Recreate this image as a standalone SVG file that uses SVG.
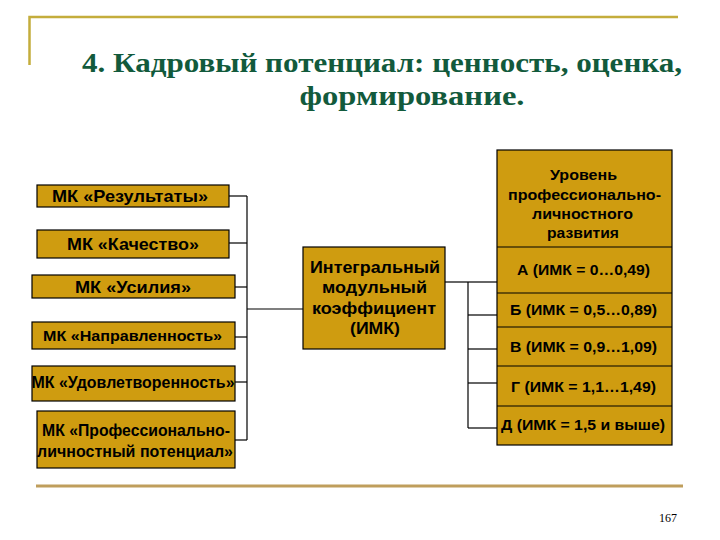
<svg xmlns="http://www.w3.org/2000/svg" width="720" height="540" viewBox="0 0 720 540">
<style>
.box{fill:#cf9c10;stroke:#000;stroke-width:1.2}
.t{font-family:"Liberation Sans",Arial,sans-serif;font-weight:bold;fill:#000;text-anchor:middle}
.l16{font-size:16.5px}
.l14{font-size:15px}
.title{font-family:"Liberation Serif","Times New Roman",serif;font-size:28px;font-weight:bold;fill:#125a3c;text-anchor:middle}
.conn{stroke:#000;stroke-width:1.2;fill:none}
</style>
<rect width="720" height="540" fill="#fff"/>
<g id="frame">
<polyline points="29.5,65 29.5,17 678,17" fill="none" stroke="#c4ad3c" stroke-width="2.5"/>
<line x1="36" y1="486" x2="683" y2="486" stroke="#bf9e5c" stroke-width="3"/>
</g>
<g id="title">
<text class="title" x="382" y="72" textLength="600" lengthAdjust="spacingAndGlyphs">4. Кадровый потенциал: ценность, оценка,</text>
<text class="title" x="412" y="105" textLength="225" lengthAdjust="spacingAndGlyphs">формирование.</text>
</g>
<g id="connectors">
<line class="conn" x1="229" y1="196" x2="247" y2="196"/>
<line class="conn" x1="229" y1="243" x2="247" y2="243"/>
<line class="conn" x1="235" y1="287" x2="247" y2="287"/>
<line class="conn" x1="235" y1="337" x2="247" y2="337"/>
<line class="conn" x1="235" y1="382" x2="247" y2="382"/>
<line class="conn" x1="235" y1="440" x2="247" y2="440"/>
<line class="conn" x1="247" y1="196" x2="247" y2="440"/>
<line class="conn" x1="247" y1="309" x2="303" y2="309"/>
<line class="conn" x1="445" y1="282" x2="468" y2="282"/>
<line class="conn" x1="468" y1="282" x2="468" y2="428"/>
<line class="conn" x1="468" y1="282" x2="497" y2="282"/>
<line class="conn" x1="468" y1="315" x2="497" y2="315"/>
<line class="conn" x1="468" y1="349" x2="497" y2="349"/>
<line class="conn" x1="468" y1="383" x2="497" y2="383"/>
<line class="conn" x1="468" y1="428" x2="497" y2="428"/>
</g>
<g id="mk-results">
<rect class="box" x="37" y="185" width="192" height="22"/>
<text class="t l16" x="130" y="202" textLength="156" lengthAdjust="spacingAndGlyphs">МК «Результаты»</text>
</g>
<g id="mk-quality">
<rect class="box" x="37" y="230" width="192" height="28"/>
<text class="t l16" x="133" y="250" textLength="132" lengthAdjust="spacingAndGlyphs">МК «Качество»</text>
</g>
<g id="mk-effort">
<rect class="box" x="32" y="275" width="203" height="23"/>
<text class="t l16" x="133" y="293" textLength="116" lengthAdjust="spacingAndGlyphs">МК «Усилия»</text>
</g>
<g id="mk-direction">
<rect class="box" x="32" y="322" width="203" height="27"/>
<text class="t l14" x="132.5" y="341" textLength="179" lengthAdjust="spacingAndGlyphs">МК «Направленность»</text>
</g>
<g id="mk-satisfaction">
<rect class="box" x="32" y="366" width="203" height="35"/>
<text class="t l16" x="133" y="388" textLength="203" lengthAdjust="spacingAndGlyphs">МК «Удовлетворенность»</text>
</g>
<g id="mk-potential">
<rect class="box" x="37" y="411" width="198" height="57"/>
<text class="t l16" x="136" y="436" textLength="188" lengthAdjust="spacingAndGlyphs">МК «Профессионально-</text>
<text class="t l16" x="135" y="457" textLength="196" lengthAdjust="spacingAndGlyphs">личностный потенциал»</text>
</g>
<g id="imk">
<rect class="box" x="303" y="247" width="142" height="102"/>
<text class="t l16" x="375" y="273" textLength="130" lengthAdjust="spacingAndGlyphs">Интегральный</text>
<text class="t l16" x="374.5" y="293" textLength="105" lengthAdjust="spacingAndGlyphs">модульный</text>
<text class="t l16" x="374" y="314" textLength="124" lengthAdjust="spacingAndGlyphs">коэффициент</text>
<text class="t l16" x="375" y="334" textLength="50" lengthAdjust="spacingAndGlyphs">(ИМК)</text>
</g>
<g id="levels">
<rect class="box" x="497" y="150" width="175" height="295"/>
<line class="conn" x1="497" y1="247" x2="672" y2="247"/>
<line class="conn" x1="497" y1="293" x2="672" y2="293"/>
<line class="conn" x1="497" y1="327" x2="672" y2="327"/>
<line class="conn" x1="497" y1="366" x2="672" y2="366"/>
<line class="conn" x1="497" y1="406" x2="672" y2="406"/>
<text class="t l14" x="583.5" y="180" textLength="67" lengthAdjust="spacingAndGlyphs">Уровень</text>
<text class="t l14" x="584.5" y="200" textLength="153" lengthAdjust="spacingAndGlyphs">профессионально-</text>
<text class="t l14" x="582.5" y="219" textLength="101" lengthAdjust="spacingAndGlyphs">личностного</text>
<text class="t l14" x="583" y="238" textLength="72" lengthAdjust="spacingAndGlyphs">развития</text>
<text class="t l14" x="583.5" y="275" textLength="133" lengthAdjust="spacingAndGlyphs">А (ИМК = 0…0,49)</text>
<text class="t l14" x="583.5" y="315" textLength="147" lengthAdjust="spacingAndGlyphs">Б (ИМК = 0,5…0,89)</text>
<text class="t l14" x="583.5" y="352" textLength="147" lengthAdjust="spacingAndGlyphs">В (ИМК = 0,9…1,09)</text>
<text class="t l14" x="583.5" y="392" textLength="145" lengthAdjust="spacingAndGlyphs">Г (ИМК = 1,1…1,49)</text>
<text class="t l14" x="583" y="430" textLength="164" lengthAdjust="spacingAndGlyphs">Д (ИМК = 1,5 и выше)</text>
</g>
<g id="page">
<text x="668" y="522" font-family="Liberation Serif,serif" font-size="12" text-anchor="middle" fill="#000">167</text>
</g>
</svg>
